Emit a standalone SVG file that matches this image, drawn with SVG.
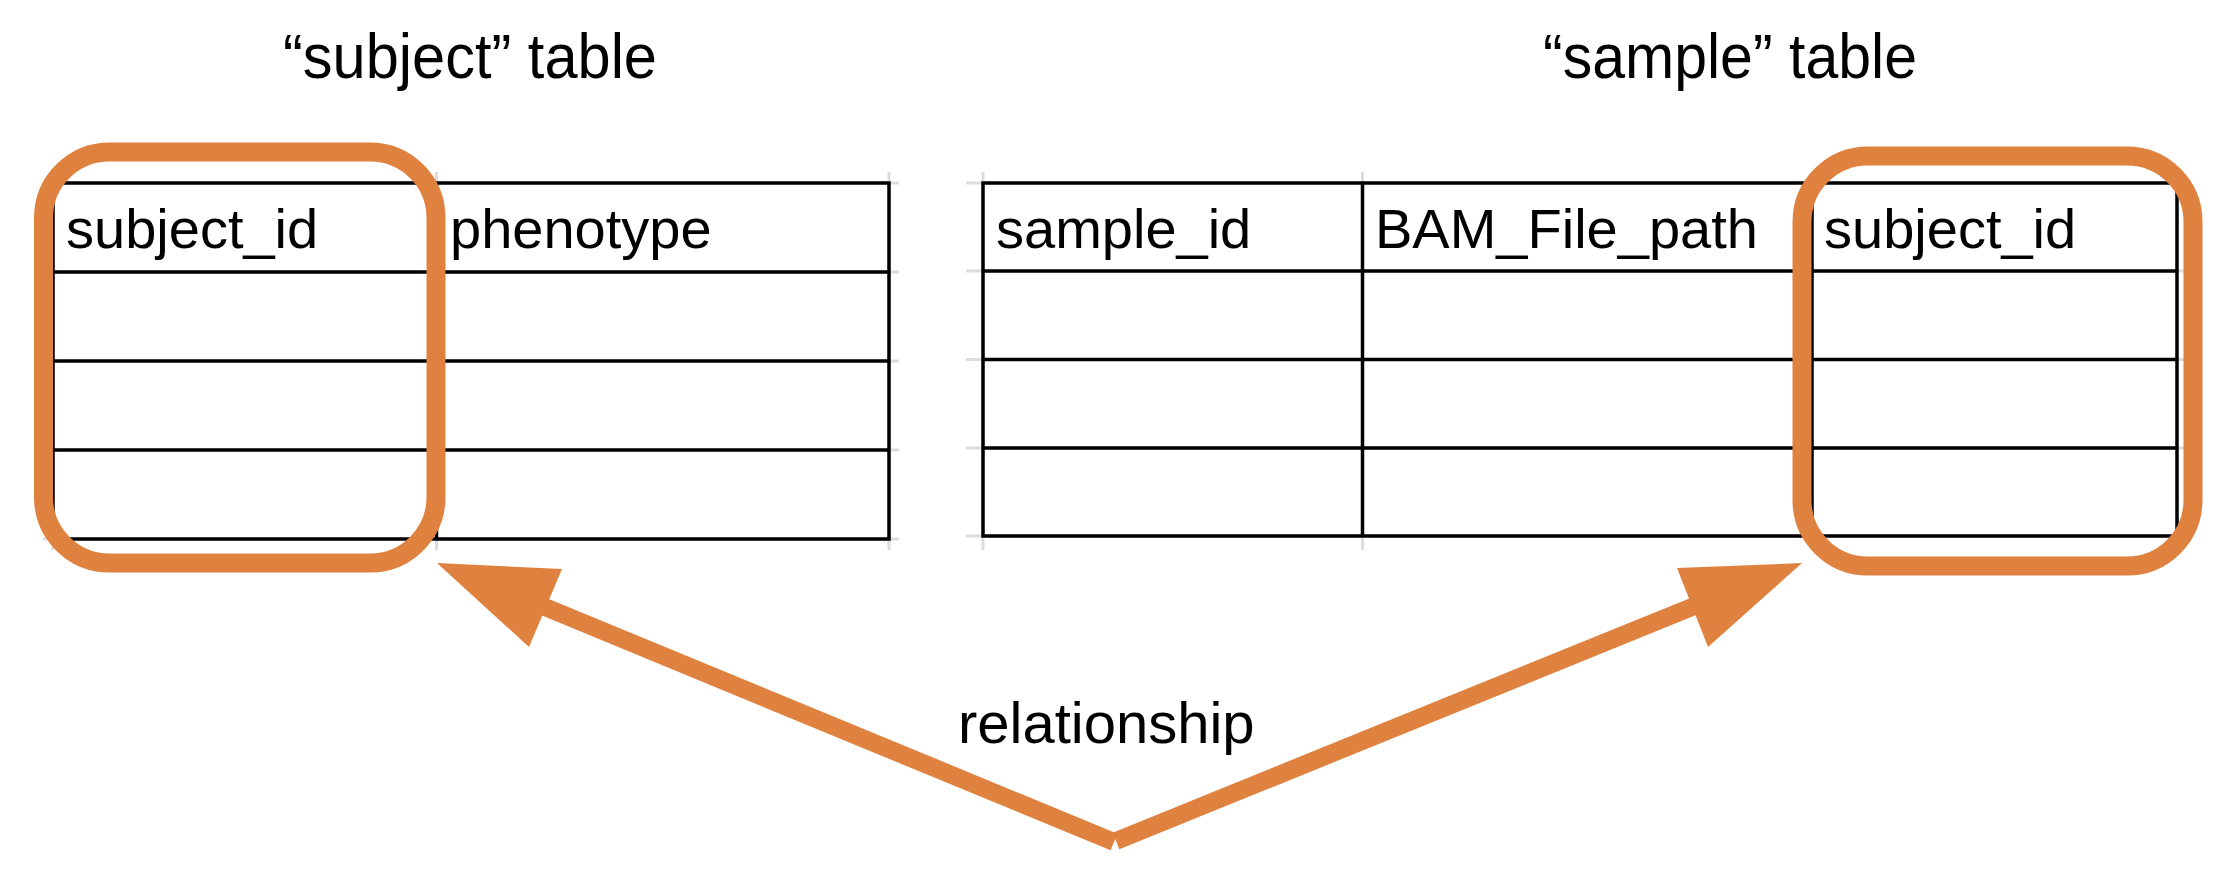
<svg xmlns="http://www.w3.org/2000/svg" width="2240" height="876" viewBox="0 0 2240 876">
  <style>
    .title { font-family: "Liberation Sans", Arial, sans-serif; font-size: 63px; fill: #000; }
    .hdr { font-family: "Liberation Sans", Arial, sans-serif; font-size: 56px; fill: #000; }
    .lbl { font-family: "Liberation Sans", Arial, sans-serif; font-size: 58px; fill: #000; }
    .grid { stroke: #000; stroke-width: 3.5; fill: none; }
    .ghost { stroke: #dcdcdc; stroke-width: 3; fill: none; }
    .hl { stroke: #E0823F; stroke-width: 19; fill: none; }
    .shaft { stroke: #E0823F; stroke-width: 18; fill: none; stroke-linecap: butt; }
    .head { fill: #E0823F; }
  </style>
  <rect x="0" y="0" width="2240" height="876" fill="#ffffff"/>

  <g id="subject-title">
    <text class="title" x="283" y="78" textLength="374" lengthAdjust="spacingAndGlyphs">“subject” table</text>
  </g>
  <g id="sample-title">
    <text class="title" x="1543" y="78" textLength="374" lengthAdjust="spacingAndGlyphs">“sample” table</text>
  </g>

  <g id="subject-table">
    <g class="ghost">
      <line x1="43" y1="183" x2="899" y2="183"/>
      <line x1="43" y1="272" x2="899" y2="272"/>
      <line x1="43" y1="361" x2="899" y2="361"/>
      <line x1="43" y1="450" x2="899" y2="450"/>
      <line x1="43" y1="539" x2="899" y2="539"/>
      <line x1="53" y1="172" x2="53" y2="550"/>
      <line x1="436.5" y1="172" x2="436.5" y2="550"/>
      <line x1="889" y1="172" x2="889" y2="550"/>
    </g>
    <g class="grid">
      <rect x="53" y="183" width="836" height="356"/>
      <line x1="53" y1="272" x2="889" y2="272"/>
      <line x1="53" y1="361" x2="889" y2="361"/>
      <line x1="53" y1="450" x2="889" y2="450"/>
      <line x1="436.5" y1="183" x2="436.5" y2="539"/>
    </g>
    <text class="hdr" x="66" y="248">subject_id</text>
    <text class="hdr" x="450" y="248">phenotype</text>
  </g>

  <g id="sample-table">
    <g class="ghost">
      <line x1="966" y1="183" x2="2187" y2="183"/>
      <line x1="966" y1="271" x2="2187" y2="271"/>
      <line x1="966" y1="359.5" x2="2187" y2="359.5"/>
      <line x1="966" y1="448" x2="2187" y2="448"/>
      <line x1="966" y1="536" x2="2187" y2="536"/>
      <line x1="983" y1="172" x2="983" y2="550"/>
      <line x1="1362.5" y1="172" x2="1362.5" y2="550"/>
      <line x1="1812" y1="172" x2="1812" y2="550"/>
      <line x1="2177" y1="172" x2="2177" y2="550"/>
    </g>
    <g class="grid">
      <rect x="983" y="183" width="1194" height="353"/>
      <line x1="983" y1="271" x2="2177" y2="271"/>
      <line x1="983" y1="359.5" x2="2177" y2="359.5"/>
      <line x1="983" y1="448" x2="2177" y2="448"/>
      <line x1="1362.5" y1="183" x2="1362.5" y2="536"/>
      <line x1="1812" y1="183" x2="1812" y2="536"/>
    </g>
    <text class="hdr" x="996" y="248">sample_id</text>
    <text class="hdr" x="1375" y="248">BAM_File_path</text>
    <text class="hdr" x="1824" y="248">subject_id</text>
  </g>

  <g id="subject-id-highlight">
    <rect class="hl" x="43.5" y="152" width="392.5" height="411" rx="66" ry="66"/>
  </g>
  <g id="sample-subject-id-highlight">
    <rect class="hl" x="1802" y="156" width="391" height="410" rx="66" ry="66"/>
  </g>

  <g id="relationship-label">
    <text class="lbl" x="958" y="743">relationship</text>
  </g>

  <g id="connectors">
    <line class="shaft" x1="1114" y1="842" x2="540" y2="605"/>
    <polygon class="head" points="437,563 562,569 529,647"/>
    <line class="shaft" x1="1116" y1="841" x2="1697" y2="605"/>
    <polygon class="head" points="1802,563 1677,568 1708,647"/>
  </g>
</svg>
